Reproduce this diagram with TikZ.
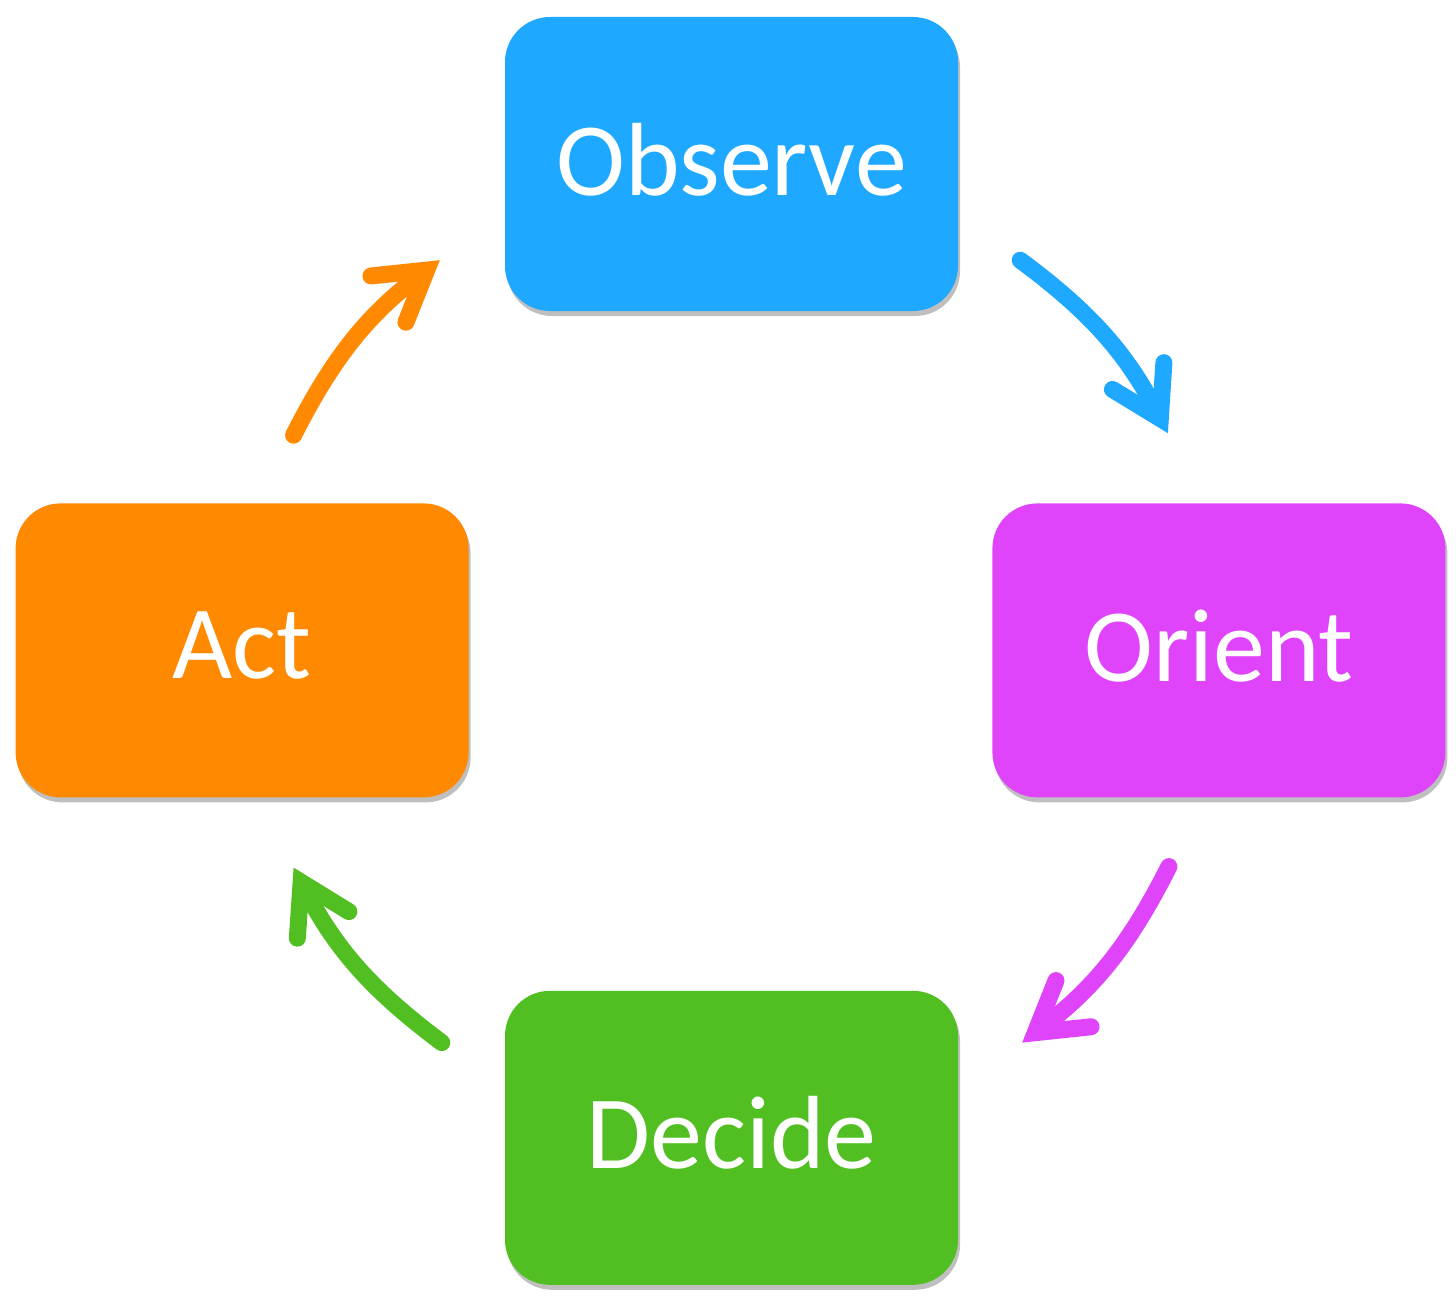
\documentclass[tikz,border=0pt]{standalone}
\usepackage{fontspec}
\setmainfont{Carlito}
\definecolor{obsblue}{RGB}{30, 168, 255}
\definecolor{orimagenta}{RGB}{223, 67, 250}
\definecolor{decgreen}{RGB}{81, 190, 33}
\definecolor{actorange}{RGB}{255, 137, 0}
\usetikzlibrary{
  arrows.meta,
  positioning,
  shadows,
}
\tikzset{
  box/.style={rectangle, rounded corners=45pt, minimum width=453pt, minimum height=294pt,
    text=white, font=\fontsize{104}{120}\selectfont, text depth=10pt,
    drop shadow={shadow xshift=2pt, shadow yshift=-5pt, fill=black, opacity=0.25}},
  flow/.style={line width=17pt, line cap=round,
    -{Straight Barb[length=48pt, width=58pt, line cap=round, line join=miter]}},
}
\begin{document}
\begin{tikzpicture}[x=1pt, y=1pt]
        \useasboundingbox (0,0) rectangle (1456,-1303);

        \node[box, fill=obsblue]    (obs)    at (731.5,-164)    {Observe};
        \node[box, fill=orimagenta]    (ori)  [below right=192pt and 34pt of obs]      {Orient};
        \node[box, fill=actorange]    (act)  [below left=192pt and 36pt of obs]      {Act};
        \node[box, fill=decgreen]    (dec)  [below right=193pt and 36pt of act]      {Decide};

        \draw[flow, obsblue] ([shift={(62,51)}]obs.south east) to[bend left=13] ([shift={(-51,70)}]ori.north);
        \draw[flow, orimagenta] ([shift={(-50,-69)}]ori.south) to[bend left=13] ([shift={(64,-52)}]dec.north east);
        \draw[flow, decgreen] ([shift={(-63,-52)}]dec.north west) to[bend left=13] ([shift={(51.5,-70)}]act.south);
        \draw[flow, actorange] ([shift={(51.5,68)}]act.north) to[bend left=13] ([shift={(-65,51)}]obs.south west);
    \end{tikzpicture}
\end{document}
